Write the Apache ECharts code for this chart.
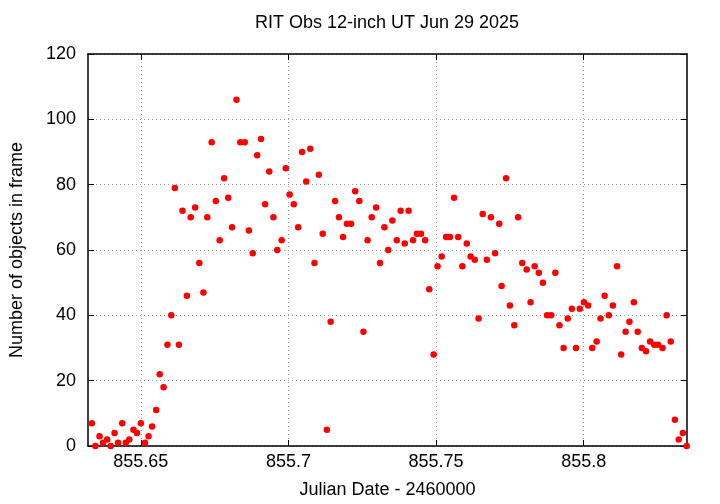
<!DOCTYPE html>
<html>
<head>
<meta charset="utf-8">
<script src="https://cdn.jsdelivr.net/npm/echarts@6/dist/echarts.min.js"></script>
<style>
html,body{margin:0;padding:0;background:#fff;}
#chart{width:720px;height:504px;}
</style>
</head>
<body>
<div id="chart"></div>
<script>
// Julian Date - 2460000
var jd = [
855.6334,855.6346,855.6360,855.6372,855.6386,855.6398,855.6411,855.6423,855.6437,855.6449,
855.6461,855.6475,855.6487,855.6500,855.6514,855.6526,855.6538,855.6552,855.6564,855.6577,
855.6590,855.6603,855.6615,855.6629,855.6641,855.6656,855.6669,855.6684,855.6698,855.6712,
855.6725,855.6740,855.6754,855.6767,855.6782,855.6796,855.6809,855.6824,855.6837,855.6852,
855.6866,855.6879,855.6894,855.6907,855.6921,855.6935,855.6949,855.6962,855.6977,855.6991,
855.7004,855.7018,855.7033,855.7046,855.7060,855.7074,855.7088,855.7103,855.7116,855.7130,
855.7143,855.7158,855.7171,855.7185,855.7198,855.7212,855.7226,855.7240,855.7254,855.7268,
855.7282,855.7297,855.7310,855.7325,855.7338,855.7352,855.7367,855.7380,855.7394,855.7407,
855.7422,855.7435,855.7449,855.7463,855.7477,855.7492,855.7505,855.7519,855.7534,855.7547,
855.7561,855.7575,855.7589,855.7604,855.7617,855.7631,855.7644,855.7658,855.7672,855.7686,
855.7700,855.7714,855.7722,855.7737,855.7750,855.7765,855.7778,855.7792,855.7807,855.7820,
855.7834,855.7848,855.7862,855.7876,855.7890,855.7904,855.7918,855.7932,855.7946,855.7960,
855.7974,855.7987,855.8001,855.8015,855.8029,855.8044,855.8057,855.8071,855.8085,855.8099,
855.8113,855.8127,855.8142,855.8155,855.8170,855.8183,855.8197,855.8211,855.8225,855.8239,
855.8252,855.8267,855.8281,855.8295,855.8309,855.8322,855.8336,855.8349
];
// Number of objects in frame
var counts = [
7,0,3,1,2,0,4,1,7,1,
2,5,4,7,1,3,6,11,22,18,
31,40,79,31,72,46,70,73,56,47,
70,93,75,63,82,76,67,106,93,93,
66,59,89,94,74,84,70,60,63,85,
77,74,67,90,81,91,56,83,65,5,
38,75,70,64,68,68,78,75,35,63,
70,73,56,67,60,69,63,72,62,72,
63,65,65,63,48,28,55,58,64,64,
76,64,55,62,58,57,39,71,57,70,
59,68,49,82,43,37,70,56,54,44,
55,53,50,40,40,53,37,30,39,42,
30,42,44,43,30,32,39,46,40,43,
55,28,35,38,44,35,30,29,32,31,
31,30,40,32,8,2,4,0
];
var xTicks = [855.65, 855.7, 855.75, 855.8];
var yMin = 0, yMax = 120, yStep = 20;
var xMin = 855.6321, xMax = 855.835;

var pts = jd.map(function (x, i) { return [x, counts[i]]; });

var FONT = '"Liberation Sans", Arial, sans-serif';
var chart = echarts.init(document.getElementById('chart'), null, {renderer: 'canvas'});
var frameLine = {show: true, onZero: false, lineStyle: {color: '#000', width: 1.5}};
chart.setOption({
  animation: false,
  backgroundColor: '#fff',
  title: {
    text: 'RIT Obs 12-inch UT Jun 29 2025',
    left: 387, top: 14, padding: 0, textAlign: 'center',
    textStyle: {fontFamily: FONT, fontSize: 18, fontWeight: 'normal', color: '#000'}
  },
  grid: {left: 88, right: 33, top: 54, bottom: 58, containLabel: false},
  xAxis: [{
    type: 'value', min: xMin, max: xMax, position: 'bottom',
    name: 'Julian Date - 2460000', nameLocation: 'middle', nameGap: 35,
    nameTextStyle: {fontFamily: FONT, fontSize: 18, color: '#000'},
    axisLine: frameLine,
    axisTick: {show: true, inside: true, length: 6, customValues: xTicks, lineStyle: {color: '#000', width: 1}},
    axisLabel: {show: true, customValues: xTicks, margin: 7, fontFamily: FONT, fontSize: 18, color: '#000',
      formatter: function (v) { return String(+v.toFixed(4)); }},
    splitLine: {show: true, lineStyle: {color: '#a0a0a0', width: 1, type: [1, 3]}}
  }, {
    type: 'value', min: xMin, max: xMax, position: 'top',
    axisLine: frameLine,
    axisTick: {show: true, inside: true, length: 6, customValues: xTicks, lineStyle: {color: '#000', width: 1}},
    axisLabel: {show: false},
    splitLine: {show: false}
  }],
  yAxis: [{
    type: 'value', min: yMin, max: yMax, interval: yStep, position: 'left',
    name: 'Number of objects in frame', nameLocation: 'middle', nameGap: 62,
    nameTextStyle: {fontFamily: FONT, fontSize: 18, color: '#000'},
    axisLine: frameLine,
    axisTick: {show: true, inside: true, length: 6, lineStyle: {color: '#000', width: 1}},
    axisLabel: {show: true, margin: 12, fontFamily: FONT, fontSize: 18, color: '#000'},
    splitLine: {show: true, lineStyle: {color: '#a0a0a0', width: 1, type: [1, 3]}}
  }, {
    type: 'value', min: yMin, max: yMax, interval: yStep, position: 'right',
    axisLine: frameLine,
    axisTick: {show: true, inside: true, length: 6, lineStyle: {color: '#000', width: 1}},
    axisLabel: {show: false},
    splitLine: {show: false}
  }],
  series: [{
    type: 'scatter',
    xAxisIndex: 0, yAxisIndex: 0,
    data: pts,
    symbol: 'circle',
    symbolSize: 6.5,
    itemStyle: {color: '#ff0000', opacity: 1},
    clip: false
  }]
});
</script>
</body>
</html>
